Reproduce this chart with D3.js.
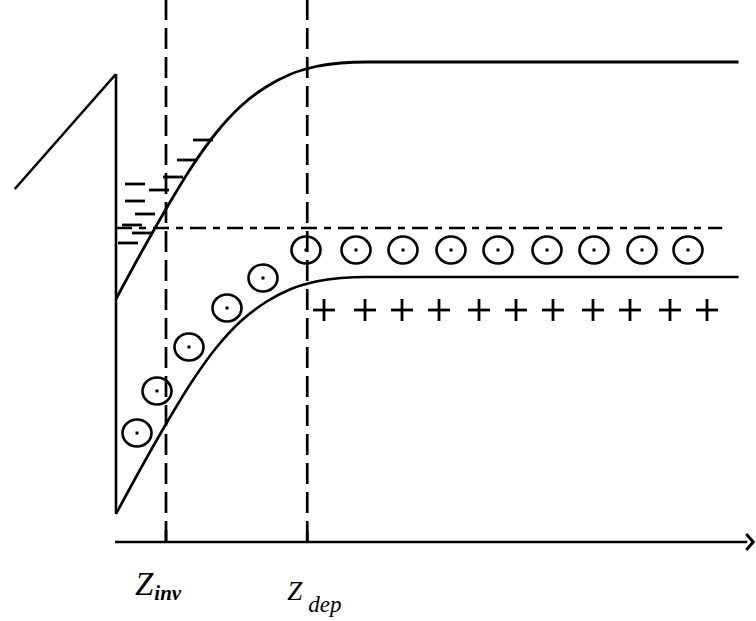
<!DOCTYPE html>
<html>
<head>
<meta charset="utf-8">
<script src="https://cdn.jsdelivr.net/npm/d3@7"></script>
<style>
  html, body { margin: 0; padding: 0; background: #fff; }
  svg { display: block; }
  text { font-family: "Liberation Serif", "DejaVu Serif", serif; fill: #000; }
</style>
</head>
<body>
<script>
// Band diagram of an MOS structure in inversion: depth z (arb. units), energy E (arb. units)

// Band bending profile psi(z) measured from the bulk band edges
const depth = [0, 2, 4, 6, 8, 10, 12, 14, 16, 18, 20, 49.8];
const bending = [2.37, 1.91, 1.47, 1.06, 0.71, 0.44, 0.25, 0.12, 0.045, 0.01, 0, 0];

// Bulk levels
const EcBulk = 4.80;
const EvBulk = 2.65;
const EFermi = 3.14;
const fermiEnd = 48.5;

// Oxide / gate edge (line rising to the interface at z = 0)
const oxideZ = [-8.1, 0];
const oxideE = [3.53, 4.68];

// Characteristic depths
const zInv = 4.0;
const zDep = 15.3;
const axisEnd = 50.5;

// Electrons in the inversion layer (minus signs)
const electronZ = [6.96, 5.68, 4.56, 1.52, 3.44, 1.52, 2.32, 1.28, 2.08, 0.96];
const electronE = [4.02, 3.82, 3.65, 3.58, 3.52, 3.41, 3.28, 3.17, 3.09, 2.99];

// Holes (circled dots)
const holeZ = [1.68, 3.28, 5.84, 8.88, 11.76, 15.2, 19.2, 22.96, 26.8, 30.56, 34.48, 38.24, 42.08, 45.76];
const holeE = [1.09, 1.51, 1.95, 2.34, 2.64, 2.92, 2.92, 2.92, 2.92, 2.92, 2.92, 2.92, 2.92, 2.92];

// Ionised donors / fixed charges (plus signs)
const donorZ = [16.64, 19.92, 22.88, 25.84, 29.04, 32.0, 34.96, 38.16, 41.12, 44.32, 47.28];
const donorE = [2.32, 2.32, 2.32, 2.32, 2.32, 2.32, 2.32, 2.32, 2.32, 2.32, 2.32];

// Axis labels
const tickLabels = [
  { z: zInv, main: "Z", sub: "inv", dx: -31, y: 595, size: 33, subSize: 21, subDx: 1, subDy: 5, bold: true },
  { z: zDep, main: "Z", sub: "dep", dx: -20, y: 600, size: 27, subSize: 23, subDx: 6, subDy: 12, bold: false }
];

const W = 756, H = 621;
const svg = d3.select("body").append("svg").attr("width", W).attr("height", H);

const x = d3.scaleLinear().domain([0, 50]).range([116, 741]);
const y = d3.scaleLinear().domain([0, 5]).range([542, 42]);

const band = depth.map((z, i) => ({ z, psi: bending[i] }));
const line = d3.line().curve(d3.curveMonotoneX);

// Conduction band edge
svg.append("path")
  .attr("d", line(band.map(d => [x(d.z), y(EcBulk - d.psi)])))
  .attr("fill", "none").attr("stroke", "#000").attr("stroke-width", 2.8);

// Valence band edge
svg.append("path")
  .attr("d", line(band.map(d => [x(d.z), y(EvBulk - d.psi)])))
  .attr("fill", "none").attr("stroke", "#000").attr("stroke-width", 2.6);

// Fermi level (dash-dot)
svg.append("line")
  .attr("x1", x(0)).attr("x2", x(fermiEnd))
  .attr("y1", y(EFermi)).attr("y2", y(EFermi))
  .attr("stroke", "#000").attr("stroke-width", 2.6)
  .attr("stroke-dasharray", "16,7,7,7");

// Oxide edge and interface
svg.append("path")
  .attr("d", d3.line()(oxideZ.map((z, i) => [x(z), y(oxideE[i])])))
  .attr("fill", "none").attr("stroke", "#000").attr("stroke-width", 2.6);
svg.append("line")
  .attr("x1", x(0)).attr("x2", x(0))
  .attr("y1", y(oxideE[1])).attr("y2", y(EvBulk - bending[0]))
  .attr("stroke", "#000").attr("stroke-width", 2.6);

// Dashed verticals at the inversion and depletion depths
[zInv, zDep].forEach(z => {
  svg.append("line")
    .attr("x1", x(z)).attr("x2", x(z))
    .attr("y1", y(0)).attr("y2", 0)
    .attr("stroke", "#000").attr("stroke-width", 2.7)
    .attr("stroke-dasharray", "21,8");
  svg.append("line")
    .attr("x1", x(z)).attr("x2", x(z))
    .attr("y1", y(0)).attr("y2", y(0) - 12)
    .attr("stroke", "#000").attr("stroke-width", 2.7);
});

// Depth axis with arrow head
svg.append("line")
  .attr("x1", x(0) - 1).attr("x2", x(axisEnd))
  .attr("y1", y(0)).attr("y2", y(0))
  .attr("stroke", "#000").attr("stroke-width", 2.6);
svg.append("path")
  .attr("d", d3.line()([[x(axisEnd) - 1, y(0) - 8], [x(axisEnd) + 6, y(0)], [x(axisEnd) - 1, y(0) + 8]]))
  .attr("fill", "none").attr("stroke", "#000").attr("stroke-width", 3);

// Electrons
svg.append("g").selectAll("line")
  .data(electronZ.map((z, i) => ({ z, e: electronE[i] })))
  .join("line")
  .attr("x1", d => x(d.z) - 10).attr("x2", d => x(d.z) + 10)
  .attr("y1", d => y(d.e)).attr("y2", d => y(d.e))
  .attr("stroke", "#000").attr("stroke-width", 2.8);

// Holes
const holes = svg.append("g").selectAll("g")
  .data(holeZ.map((z, i) => ({ z, e: holeE[i] })))
  .join("g")
  .attr("transform", d => `translate(${x(d.z)},${y(d.e)})`);
holes.append("ellipse").attr("rx", 14.5).attr("ry", 13.5)
  .attr("fill", "none").attr("stroke", "#000").attr("stroke-width", 2.6);
holes.append("rect").attr("x", -1.5).attr("y", -1.5).attr("width", 3).attr("height", 3).attr("fill", "#000");

// Donors
const donors = svg.append("g").selectAll("g")
  .data(donorZ.map((z, i) => ({ z, e: donorE[i] })))
  .join("g")
  .attr("transform", d => `translate(${x(d.z)},${y(d.e)})`);
donors.append("line").attr("x1", -11).attr("x2", 11).attr("y1", 0).attr("y2", 0)
  .attr("stroke", "#000").attr("stroke-width", 2.8);
donors.append("line").attr("x1", 0).attr("x2", 0).attr("y1", -11).attr("y2", 11)
  .attr("stroke", "#000").attr("stroke-width", 2.8);

// Depth labels
tickLabels.forEach(t => {
  const txt = svg.append("text")
    .attr("x", x(t.z) + t.dx).attr("y", t.y)
    .attr("font-style", "italic").attr("font-size", t.size);
  txt.append("tspan").text(t.main);
  txt.append("tspan")
    .attr("dx", t.subDx).attr("dy", t.subDy)
    .attr("font-size", t.subSize)
    .attr("font-weight", t.bold ? "bold" : "normal")
    .text(t.sub);
});
</script>
</body>
</html>
